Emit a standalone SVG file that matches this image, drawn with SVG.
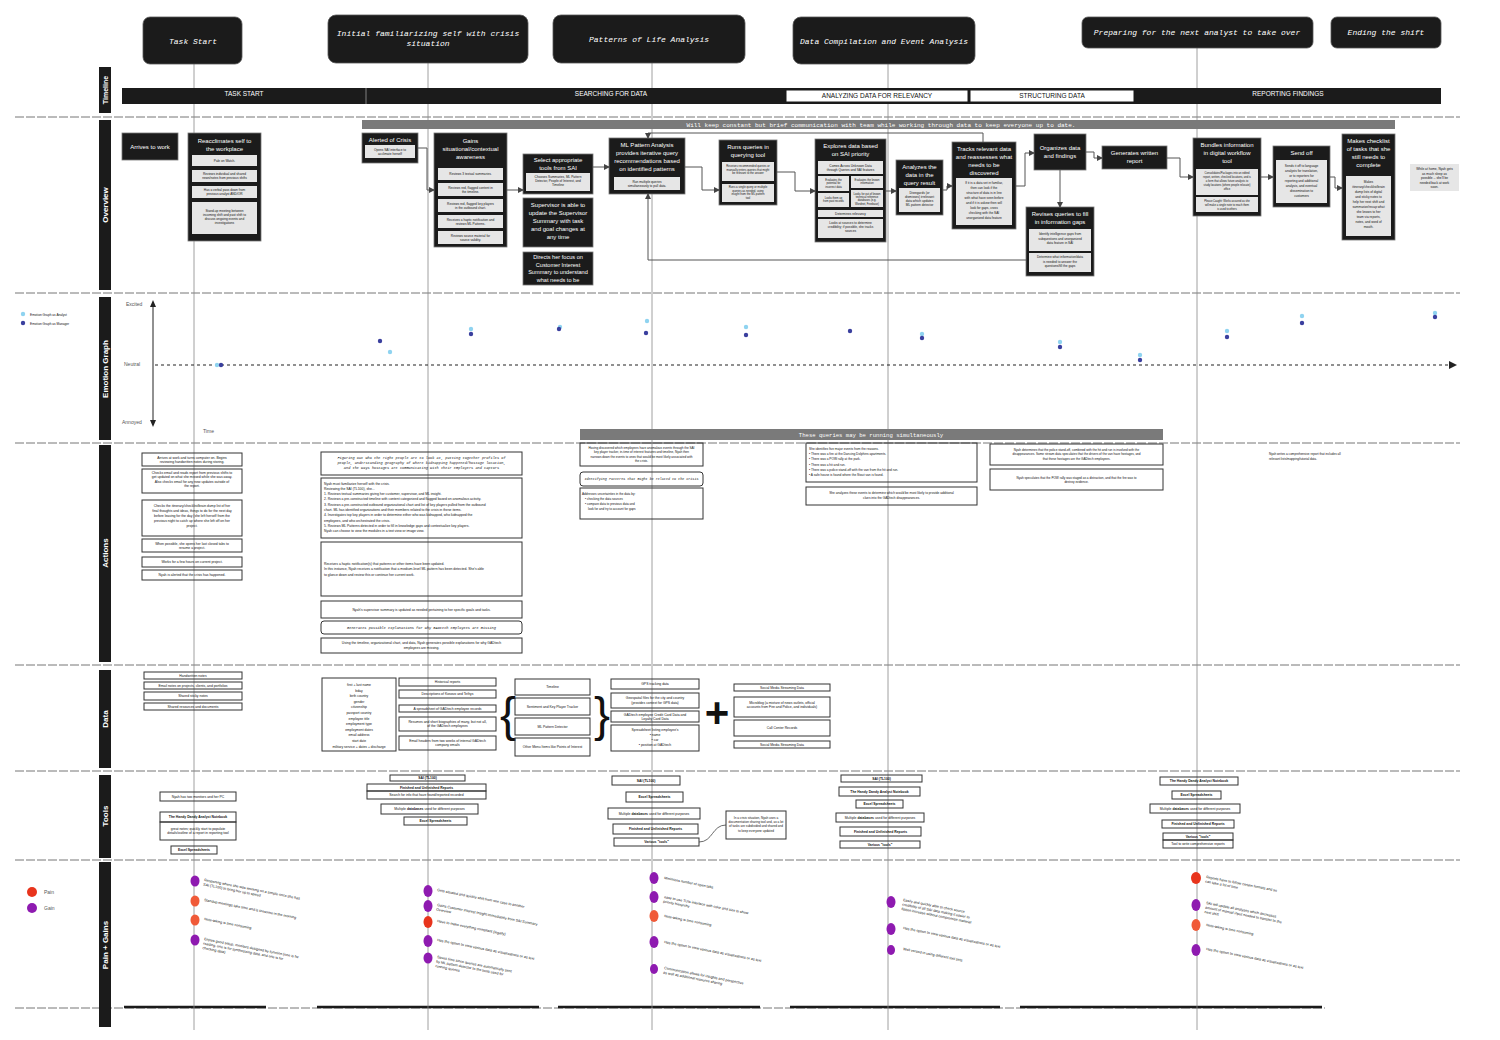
<svg xmlns="http://www.w3.org/2000/svg" width="1500" height="1040" viewBox="0 0 1500 1040">
<style>
.hdr{fill:#1b1b1b;stroke:#555;stroke-width:0.8}
.ht{fill:#fff;font-family:"Liberation Mono",monospace;font-style:italic;font-size:8px;text-anchor:middle}
.lane{fill:#1b1b1b}
.lt{fill:#fff;font-family:"Liberation Sans",Arial,sans-serif;font-weight:bold;font-size:8px;text-anchor:middle}
.tlt{font-family:"Liberation Sans",Arial,sans-serif;font-size:6.5px;text-anchor:middle}
.ob{fill:#1b1b1b;stroke:#777;stroke-width:0.8}
.ot{fill:#fff;font-family:"Liberation Sans",Arial,sans-serif;font-size:6px;text-anchor:middle}
.ib{fill:#e6e6e6}
.it{fill:#111;font-family:"Liberation Sans",Arial,sans-serif;font-size:3.2px;text-anchor:middle}
.ab{fill:none;stroke:#333;stroke-width:1}
.at{fill:#111;font-family:"Liberation Sans",Arial,sans-serif;font-size:3.4px;text-anchor:middle}
.al{text-anchor:start}
.b{font-weight:bold}
.mi{font-family:"Liberation Mono",monospace;font-style:italic}
.sep{stroke:#777;stroke-width:1;stroke-dasharray:9 2}
.vl{stroke:#888;stroke-width:0.8}
.cn{fill:none;stroke:#555;stroke-width:1;marker-end:url(#ar)}
.pg{font-family:"Liberation Sans",Arial,sans-serif;font-size:3.6px;fill:#111}
.ax{font-family:"Liberation Sans",Arial,sans-serif;font-size:5px;fill:#555}
.pu{fill:#8e1ab0}.rd{fill:#e8341c}.or{fill:#f05a38}
.dk{fill:#3a3f9e}.lb{fill:#8fd3f0}
</style>
<defs>
<marker id="ar" markerWidth="6" markerHeight="6" refX="5" refY="3" orient="auto" markerUnits="userSpaceOnUse"><path d="M0,0 L6,3 L0,6 z" fill="#444"/></marker>
<marker id="ar2" markerWidth="8" markerHeight="8" refX="7" refY="4" orient="auto" markerUnits="userSpaceOnUse"><path d="M0,0 L8,4 L0,8 z" fill="#222"/></marker>
</defs>
<rect width="1500" height="1040" fill="#fff"/>

<g id="separators">
<line class="sep" x1="15" y1="117" x2="1460" y2="117"/>
<line class="sep" x1="15" y1="293" x2="1460" y2="293"/>
<line class="sep" x1="15" y1="443" x2="1460" y2="443"/>
<line class="sep" x1="15" y1="665" x2="1460" y2="665"/>
<line class="sep" x1="15" y1="771" x2="1460" y2="771"/>
<line class="sep" x1="15" y1="860" x2="1460" y2="860"/>
<line class="sep" x1="15" y1="1008" x2="1325" y2="1008"/>
<g stroke="#1b1b1b" stroke-width="2.5">
<line x1="124" y1="1007" x2="266" y2="1007"/><line x1="317" y1="1007" x2="539" y2="1007"/><line x1="558" y1="1007" x2="760" y2="1007"/><line x1="790" y1="1007" x2="1000" y2="1007"/><line x1="1020" y1="1007" x2="1322" y2="1007"/>
</g>
</g>

<g id="verticals">
<line class="vl" x1="194" y1="64" x2="194" y2="1030"/>
<line class="vl" x1="428" y1="63" x2="428" y2="1030"/>
<line class="vl" x1="652" y1="63" x2="652" y2="1030"/>
<line class="vl" x1="888" y1="64" x2="888" y2="1030"/>
<line class="vl" x1="1197" y1="48" x2="1197" y2="1030"/>
</g>

<g id="lanes">
<rect class="lane" x="99" y="67" width="12" height="46"/><text class="lt" style="font-size:7px" transform="translate(108,90) rotate(-90)">Timeline</text>
<rect class="lane" x="99" y="120" width="12" height="170"/><text class="lt" transform="translate(108,205) rotate(-90)">Overview</text>
<rect class="lane" x="99" y="297" width="12" height="143"/><text class="lt" transform="translate(108,369) rotate(-90)">Emotion Graph</text>
<rect class="lane" x="99" y="445" width="12" height="217"/><text class="lt" transform="translate(108,553) rotate(-90)">Actions</text>
<rect class="lane" x="99" y="670" width="12" height="98"/><text class="lt" transform="translate(108,719) rotate(-90)">Data</text>
<rect class="lane" x="99" y="775" width="12" height="83"/><text class="lt" transform="translate(108,816) rotate(-90)">Tools</text>
<rect class="lane" x="99" y="862" width="12" height="165"/><text class="lt" transform="translate(108,945) rotate(-90)">Pain + Gains</text>
</g>

<g id="phases">
<g id="ph-task-start"><rect class="hdr" x="143" y="17" width="99" height="47" rx="7"/><text class="ht" x="193" y="44">Task Start</text></g>
<g id="ph-initial"><rect class="hdr" x="328" y="15" width="200" height="48" rx="8"/><text class="ht" x="428" y="36">Initial familiarizing self with crisis<tspan x="428" dy="10">situation</tspan></text></g>
<g id="ph-patterns"><rect class="hdr" x="553" y="15" width="192" height="48" rx="8"/><text class="ht" x="649" y="42">Patterns of Life Analysis</text></g>
<g id="ph-data"><rect class="hdr" x="793" y="17" width="182" height="47" rx="8"/><text class="ht" x="884" y="44">Data Compilation and Event Analysis</text></g>
<g id="ph-preparing"><rect class="hdr" x="1082" y="17" width="231" height="31" rx="6"/><text class="ht" x="1197" y="35">Preparing for the next analyst to take over</text></g>
<g id="ph-ending"><rect class="hdr" x="1331" y="17" width="110" height="31" rx="6"/><text class="ht" x="1386" y="35">Ending the shift</text></g>
</g>

<g id="timeline">
<rect x="122" y="88" width="1319" height="16" fill="#1b1b1b"/>
<line x1="366" y1="88" x2="366" y2="104" stroke="#999" stroke-width="0.8"/>
<rect x="786" y="90" width="182" height="12" fill="#fff" stroke="#1b1b1b"/>
<rect x="970" y="90" width="164" height="12" fill="#fff" stroke="#1b1b1b"/>
<text class="tlt" x="244" y="96" fill="#fff">TASK START</text>
<text class="tlt" x="611" y="96" fill="#fff">SEARCHING FOR DATA</text>
<text class="tlt" x="877" y="98" fill="#111">ANALYZING DATA FOR RELEVANCY</text>
<text class="tlt" x="1052" y="98" fill="#111">STRUCTURING DATA</text>
<text class="tlt" x="1288" y="96" fill="#fff">REPORTING FINDINGS</text>
</g>

<g id="overview">
<g id="comm-bar"><rect x="362" y="120" width="1033" height="9" fill="#7a7a7a"/><text x="881" y="127" fill="#fff" font-family="Liberation Mono, monospace" font-size="6" text-anchor="middle">Will keep constant but brief communication with team while working through data to keep everyone up to date.</text></g>

<g id="n-arrives"><rect class="ob" x="122" y="133" width="56" height="27"/><text class="ot" x="150" y="149">Arrives to work</text></g>

<g id="n-reacclimates"><rect class="ob" x="188" y="133" width="73" height="108"/>
<text class="ot" x="224.5" y="143">Reacclimates self to<tspan x="224.5" dy="7.5">the workplace</tspan></text>
<rect class="ib" x="192" y="155" width="65" height="11"/><text class="it" x="224.5" y="161.5">Pale on Watch.</text>
<rect class="ib" x="192" y="170" width="65" height="12"/><text class="it" x="224.5" y="175">Reviews individual and shared<tspan x="224.5" dy="4">news/notes from previous shifts</tspan></text>
<rect class="ib" x="192" y="186" width="65" height="12"/><text class="it" x="224.5" y="191">Has a verbal pass down from<tspan x="224.5" dy="4">previous analyst AND/OR</tspan></text>
<rect class="ib" x="192" y="202" width="65" height="32"/><text class="it" x="224.5" y="212">Stand-up meeting between<tspan x="224.5" dy="4">incoming shift and past shift to</tspan><tspan x="224.5" dy="4">discuss ongoing events and</tspan><tspan x="224.5" dy="4">investigations</tspan></text>
</g>

<g id="n-alerted"><rect class="ob" x="362" y="133" width="56" height="30"/>
<text class="ot" x="390" y="141.5">Alerted of Crisis</text>
<rect class="ib" x="365" y="145" width="50" height="13"/><text class="it" x="390" y="150.5">Opens SAI interface to<tspan x="390" dy="4">acclimate herself</tspan></text>
</g>

<g id="n-gains"><rect class="ob" x="434" y="133" width="73" height="114"/>
<text class="ot" x="470.5" y="143">Gains<tspan x="470.5" dy="8">situational/contextual</tspan><tspan x="470.5" dy="8">awareness</tspan></text>
<rect class="ib" x="438" y="168" width="65" height="12"/><text class="it" x="470.5" y="175">Reviews 3 textual summaries.</text>
<rect class="ib" x="438" y="183" width="65" height="13"/><text class="it" x="470.5" y="188.5">Reviews red, flagged content in<tspan x="470.5" dy="4">the timeline.</tspan></text>
<rect class="ib" x="438" y="199" width="65" height="13"/><text class="it" x="470.5" y="204.5">Reviews red, flagged key players<tspan x="470.5" dy="4">in the outbound chart.</tspan></text>
<rect class="ib" x="438" y="215" width="65" height="13"/><text class="it" x="470.5" y="220.5">Receives a haptic notification and<tspan x="470.5" dy="4">reviews ML Patterns.</tspan></text>
<rect class="ib" x="438" y="231" width="65" height="13"/><text class="it" x="470.5" y="236.5">Reviews source material for<tspan x="470.5" dy="4">source validity.</tspan></text>
</g>

<g id="n-select"><rect class="ob" x="523" y="154" width="70" height="40"/>
<text class="ot" x="558" y="162">Select appropriate<tspan x="558" dy="7.5">tools from SAI</tspan></text>
<rect class="ib" x="526" y="173" width="64" height="18"/><text class="it" x="558" y="178">Chooses Summaries, ML Pattern<tspan x="558" dy="4">Detector, People of Interest, and</tspan><tspan x="558" dy="4">Timeline</tspan></text>
</g>

<g id="n-supervisor"><rect class="ob" x="523" y="198" width="70" height="49"/>
<text class="ot" x="558" y="207">Supervisor is able to<tspan x="558" dy="8">update the Supervisor</tspan><tspan x="558" dy="8">Summary with task</tspan><tspan x="558" dy="8">and goal changes at</tspan><tspan x="558" dy="8">any time</tspan></text>
</g>

<g id="n-directs"><rect class="ob" x="523" y="252" width="70" height="33"/>
<text class="ot" style="font-size:5.6px" x="558" y="259">Directs her focus on<tspan x="558" dy="7.5">Customer Interest</tspan><tspan x="558" dy="7.5">Summary to understand</tspan><tspan x="558" dy="7.5">what needs to be</tspan></text>
</g>

<g id="n-ml"><rect class="ob" x="609" y="138" width="76" height="56"/>
<text class="ot" x="647" y="147">ML Pattern Analysis<tspan x="647" dy="8">provides iterative query</tspan><tspan x="647" dy="8">recommendations based</tspan><tspan x="647" dy="8">on identified patterns</tspan></text>
<rect class="ib" x="614" y="177" width="66" height="13"/><text class="it" x="647" y="182.5">Run multiple queries<tspan x="647" dy="4">simultaneously to pull data.</tspan></text>
</g>

<g id="n-runs"><rect class="ob" x="719" y="140" width="58" height="65"/>
<text class="ot" x="748" y="149">Runs queries in<tspan x="748" dy="8">querying tool</tspan></text>
<rect class="ib" x="722" y="162" width="52" height="19"/><text class="it" style="font-size:2.8px" x="748" y="167">Receives recommended queries or<tspan x="748" dy="3.6">manually enters queries that might</tspan><tspan x="748" dy="3.6">be relevant to the answer</tspan></text>
<rect class="ib" x="722" y="184" width="52" height="18"/><text class="it" style="font-size:2.8px" x="748" y="188">Runs a single query or multiple<tspan x="748" dy="3.6">queries as needed, using</tspan><tspan x="748" dy="3.6">insight from the ML pattern</tspan><tspan x="748" dy="3.6">tool</tspan></text>
</g>

<g id="n-explores"><rect class="ob" x="815" y="139" width="71" height="103"/>
<text class="ot" x="850.5" y="148">Explores data based<tspan x="850.5" dy="8">on SAI priority</tspan></text>
<rect class="ib" x="818" y="161" width="65" height="13"/><text class="it" x="850.5" y="166.5">Comes Across Unknown Data<tspan x="850.5" dy="4">through Queries and SAI features</tspan></text>
<rect class="ib" x="818" y="176" width="31" height="15"/><text class="it" style="font-size:2.7px" x="833.5" y="181">Evaluates the<tspan x="833.5" dy="3.4">potential for</tspan><tspan x="833.5" dy="3.4">incorrect data</tspan></text>
<rect class="ib" x="851" y="176" width="32" height="12"/><text class="it" style="font-size:2.7px" x="867" y="181">Evaluates the known<tspan x="867" dy="3.4">information</tspan></text>
<rect class="ib" x="818" y="193" width="31" height="14"/><text class="it" style="font-size:2.7px" x="833.5" y="199">Looks them up<tspan x="833.5" dy="3.4">from past records</tspan></text>
<rect class="ib" x="851" y="190" width="32" height="17"/><text class="it" style="font-size:2.7px" x="867" y="194.5">Looks for out of known<tspan x="867" dy="3.4">technical reference</tspan><tspan x="867" dy="3.4">databases (e.g.</tspan><tspan x="867" dy="3.4">Wordnet, Freebase)</tspan></text>
<rect class="ib" x="818" y="210" width="65" height="7"/><text class="it" x="850.5" y="214.8">Determines relevancy</text>
<rect class="ib" x="818" y="219" width="65" height="19"/><text class="it" x="850.5" y="224">Looks at sources to determine<tspan x="850.5" dy="4">credibility; if possible, she tracks</tspan><tspan x="850.5" dy="4">sources</tspan></text>
</g>

<g id="n-analyzes"><rect class="ob" x="896" y="160" width="47" height="55"/>
<text class="ot" x="919.5" y="169">Analyzes the<tspan x="919.5" dy="8">data in the</tspan><tspan x="919.5" dy="8">query result</tspan></text>
<rect class="ib" x="899" y="188" width="41" height="24"/><text class="it" x="919.5" y="194">Disregards (or<tspan x="919.5" dy="4">dismisses) irrelevant</tspan><tspan x="919.5" dy="4">data which updates</tspan><tspan x="919.5" dy="4">ML pattern detector</tspan></text>
</g>

<g id="n-tracks"><rect class="ob" x="952" y="142" width="64" height="87"/>
<text class="ot" x="984" y="151">Tracks relevant data<tspan x="984" dy="8">and reassesses what</tspan><tspan x="984" dy="8">needs to be</tspan><tspan x="984" dy="8">discovered</tspan></text>
<rect class="ib" x="956" y="178" width="56" height="47"/><text class="it" x="984" y="184">If it is a data set in familiar,<tspan x="984" dy="5">then can look if the</tspan><tspan x="984" dy="5">structure of data is in line</tspan><tspan x="984" dy="5">with what have seen before</tspan><tspan x="984" dy="5">and if it is askew then will</tspan><tspan x="984" dy="5">look for gaps, cross</tspan><tspan x="984" dy="5">checking with the SAI</tspan><tspan x="984" dy="5">unorganized data feature</tspan></text>
</g>

<g id="n-organizes"><rect class="ob" x="1034" y="134" width="52" height="36"/>
<text class="ot" x="1060" y="150">Organizes data<tspan x="1060" dy="8">and findings</tspan></text>
</g>

<g id="n-revises"><rect class="ob" x="1026" y="207" width="68" height="69"/>
<text class="ot" x="1060" y="216">Revises queries to fill<tspan x="1060" dy="8">in information gaps</tspan></text>
<rect class="ib" x="1029" y="229" width="62" height="22"/><text class="it" x="1060" y="235">Identify intelligence gaps from<tspan x="1060" dy="4.5">subquestions and unorganized</tspan><tspan x="1060" dy="4.5">data feature in SAI</tspan></text>
<rect class="ib" x="1029" y="253" width="62" height="19"/><text class="it" x="1060" y="258">Determine what information/data<tspan x="1060" dy="4.5">is needed to answer the</tspan><tspan x="1060" dy="4.5">questions/fill the gaps</tspan></text>
</g>

<g id="n-generates"><rect class="ob" x="1102" y="146" width="65" height="23"/>
<text class="ot" x="1134.5" y="155">Generates written<tspan x="1134.5" dy="8">report</tspan></text>
</g>

<g id="n-bundles"><rect class="ob" x="1193" y="138" width="68" height="78"/>
<text class="ot" x="1227" y="147">Bundles information<tspan x="1227" dy="8">in digital workflow</tspan><tspan x="1227" dy="8">tool</tspan></text>
<rect class="ib" x="1196" y="169" width="62" height="26"/><text class="it" style="font-size:2.7px" x="1227" y="174">Consolidates/Packages into an edited<tspan x="1227" dy="4">report, written, checked locations, and is</tspan><tspan x="1227" dy="4">a form that allows future analysts to</tspan><tspan x="1227" dy="4">study locations (where people relocate)</tspan><tspan x="1227" dy="4">office</tspan></text>
<rect class="ib" x="1196" y="197" width="62" height="15"/><text class="it" style="font-size:2.7px" x="1227" y="202">Please Caught: Works assured as she<tspan x="1227" dy="4">will make a single note to reach them</tspan><tspan x="1227" dy="4">is used to others</tspan></text>
</g>

<g id="n-sendoff"><rect class="ob" x="1273" y="146" width="57" height="61"/>
<text class="ot" x="1301.5" y="155">Send off</text>
<rect class="ib" x="1276" y="160" width="51" height="43"/><text class="it" x="1301.5" y="167">Sends it off to language<tspan x="1301.5" dy="5">analysts for translation,</tspan><tspan x="1301.5" dy="5">or to reporters for</tspan><tspan x="1301.5" dy="5">reporting and additional</tspan><tspan x="1301.5" dy="5">analysis, and eventual</tspan><tspan x="1301.5" dy="5">dissemination to</tspan><tspan x="1301.5" dy="5">customers</tspan></text>
</g>

<g id="n-checklist"><rect class="ob" x="1342" y="134" width="53" height="106"/>
<text class="ot" x="1368.5" y="143">Makes checklist<tspan x="1368.5" dy="8">of tasks that she</tspan><tspan x="1368.5" dy="8">still needs to</tspan><tspan x="1368.5" dy="8">complete</tspan></text>
<rect class="ib" x="1346" y="176" width="45" height="60"/><text class="it" x="1368.5" y="183">Makes<tspan x="1368.5" dy="5">itinerary/checklist/brain</tspan><tspan x="1368.5" dy="5">dump lists of digital</tspan><tspan x="1368.5" dy="5">and sticky notes to</tspan><tspan x="1368.5" dy="5">help her next shift and</tspan><tspan x="1368.5" dy="5">summarize/recap what</tspan><tspan x="1368.5" dy="5">she knows to her</tspan><tspan x="1368.5" dy="5">team via reports,</tspan><tspan x="1368.5" dy="5">notes, and word of</tspan><tspan x="1368.5" dy="5">mouth.</tspan></text>
</g>

<g id="n-home"><rect class="ib" x="1410" y="164" width="49" height="27"/>
<text class="it" x="1434.5" y="170">While at home, Nyah gets<tspan x="1434.5" dy="4.5">as much sleep as</tspan><tspan x="1434.5" dy="4.5">possible -- she'll be</tspan><tspan x="1434.5" dy="4.5">needed back at work</tspan><tspan x="1434.5" dy="4.5">soon.</tspan></text>
</g>
</g>

<g id="connectors">
<path class="cn" d="M418,148 H427 V190 H434"/>
<path class="cn" d="M507,190 H523"/>
<path class="cn" d="M593,167 H609"/>
<path class="cn" d="M685,167 H702 V190 H719"/>
<path class="cn" d="M777,172 H795 V191 H815"/>
<path class="cn" d="M886,191 H896"/>
<path class="cn" d="M943,190 H947 V186 H952"/>
<path class="cn" d="M1016,186 H1025 V153 H1034"/>
<path class="cn" d="M1060,170 V207"/>
<path class="cn" d="M1026,260 H648 V194"/>
<path class="cn" d="M983,142 V133 H648 V138"/>
<path class="cn" d="M1086,152 H1094 V158 H1102"/>
<path class="cn" d="M1167,158 H1180 V177 H1193"/>
<path class="cn" d="M1261,177 H1273"/>
<path class="cn" d="M1330,177 H1335 V188 H1342"/>
<path d="M699,842 C713,842 712,825 726,825" fill="none" stroke="#444" stroke-width="0.8"/>
</g>

<g id="emotion">
<circle class="lb" cx="23" cy="314" r="2.2"/><text class="it al" x="30" y="315.5">Emotion Graph as Analyst</text>
<circle class="dk" cx="23" cy="323" r="2.2"/><text class="it al" x="30" y="324.5">Emotion Graph as Manager</text>
<line x1="153" y1="306" x2="153" y2="421" stroke="#222" stroke-width="1"/>
<path d="M150,307 L153,300 L156,307 z M150,420 L153,427 L156,420 z" fill="#222"/>
<text class="ax" x="126" y="306">Excited</text>
<text class="ax" x="124" y="366">Neutral</text>
<text class="ax" x="122" y="424">Annoyed</text>
<text class="ax" x="203" y="433">Time</text>
<line x1="155" y1="365" x2="1456" y2="365" stroke="#222" stroke-width="1.2" stroke-dasharray="3 3" marker-end="url(#ar2)"/>
<g>
<circle class="lb" cx="217" cy="365" r="2.2"/><circle class="dk" cx="221" cy="365" r="2.2"/>
<circle class="dk" cx="380" cy="341" r="2.2"/><circle class="lb" cx="390" cy="352" r="2.2"/>
<circle class="lb" cx="471" cy="329" r="2.2"/><circle class="dk" cx="471" cy="334" r="2.2"/>
<circle class="lb" cx="560" cy="327" r="2.2"/><circle class="dk" cx="559" cy="329" r="2.2"/>
<circle class="lb" cx="647" cy="321" r="2.2"/><circle class="dk" cx="646" cy="333" r="2.2"/>
<circle class="lb" cx="746" cy="327" r="2.2"/><circle class="dk" cx="746" cy="335" r="2.2"/>
<circle class="dk" cx="850" cy="331" r="2.2"/>
<circle class="lb" cx="922" cy="334" r="2.2"/><circle class="dk" cx="922" cy="338" r="2.2"/>
<circle class="lb" cx="1060" cy="342" r="2.2"/><circle class="dk" cx="1060" cy="347" r="2.2"/>
<circle class="lb" cx="1140" cy="355" r="2.2"/><circle class="dk" cx="1140" cy="360" r="2.2"/>
<circle class="lb" cx="1227" cy="331" r="2.2"/><circle class="dk" cx="1227" cy="337" r="2.2"/>
<circle class="lb" cx="1302" cy="316" r="2.2"/><circle class="dk" cx="1302" cy="323" r="2.2"/>
<circle class="lb" cx="1435" cy="313" r="2.2"/><circle class="dk" cx="1435" cy="317" r="2.2"/>
</g>
</g>

<g id="actions">
<g id="a-col1">
<rect class="ab" x="142" y="453" width="100" height="13"/><text class="at" x="192" y="458.5">Arrives at work and turns computer on. Begins<tspan x="192" dy="4.2">reviewing handwritten notes during storing.</tspan></text>
<rect class="ab" x="142" y="469" width="100" height="24"/><text class="at" x="192" y="474">Checks email and reads report from previous shifts to<tspan x="192" dy="4.4">get updated on what she missed while she was away.</tspan><tspan x="192" dy="4.4">Also checks email for any new updates outside of</tspan><tspan x="192" dy="4.4">the report.</tspan></text>
<rect class="ab" x="142" y="500" width="100" height="36"/><text class="at" x="192" y="507">Checks the itinerary/checklist/brain dump list of her<tspan x="192" dy="5">final thoughts and ideas, things to do for the next day</tspan><tspan x="192" dy="5">before leaving for the day (she left herself from the</tspan><tspan x="192" dy="5">previous night to catch up where she left off on her</tspan><tspan x="192" dy="5">project.</tspan></text>
<rect class="ab" x="142" y="539" width="100" height="13"/><text class="at" x="192" y="544.5">When possible, she opens her last closed tabs to<tspan x="192" dy="4.2">resume a project.</tspan></text>
<rect class="ab" x="142" y="557" width="100" height="10"/><text class="at" x="192" y="563.2">Works for a few hours on current project.</text>
<rect class="ab" x="142" y="570" width="100" height="10"/><text class="at" x="192" y="576.2">Nyah is alerted that the crisis has happened.</text>
</g>
<g id="a-col2">
<rect class="ab" x="321" y="452" width="201" height="23"/><text class="at mi" style="font-size:3.6px" x="421.5" y="459">Figuring out who the right people are to look at, putting together profiles of<tspan x="421.5" dy="5">people, understanding geography of where kidnapping happened/hostage location,</tspan><tspan x="421.5" dy="5">and the ways hostages are communicating with their employers and captors</tspan></text>
<rect class="ab" x="321" y="478" width="201" height="60"/><text class="at al" x="324" y="484.5">Nyah must familiarize herself with the crisis.<tspan x="324" dy="5.3">Reviewing the SAI (TL100), she...</tspan><tspan x="324" dy="5.3">1. Reviews textual summaries giving her customer, supervisor, and ML insight.</tspan><tspan x="324" dy="5.3">2. Reviews a pre-constructed timeline with content categorized and flagged based on anomalous activity.</tspan><tspan x="324" dy="5.3">3. Reviews a pre-constructed outbound organizational chart and list of key players pulled from the outbound</tspan><tspan x="324" dy="5.3">chart. ML has identified organizations and their members related to the crisis in these items.</tspan><tspan x="324" dy="5.3">4. Investigates top key players in order to determine either who was kidnapped, who kidnapped the</tspan><tspan x="324" dy="5.3">employees, and who orchestrated the crisis.</tspan><tspan x="324" dy="5.3">5. Reviews ML Patterns detected in order to fill in knowledge gaps and contextualize key players.</tspan><tspan x="324" dy="5.3">Nyah can choose to view the modules in a text view or image view.</tspan></text>
<rect class="ab" x="321" y="542" width="201" height="54"/><text class="at al" x="324" y="565">Receives a haptic notification(s) that patterns or other items have been updated.<tspan x="324" dy="5.3">In this instance, Nyah receives a notification that a medium-level ML pattern has been detected. She's able</tspan><tspan x="324" dy="5.3">to glance down and review this or continue her current work.</tspan></text>
<rect class="ab" x="321" y="601" width="201" height="17"/><text class="at" x="421.5" y="610.5">Nyah's supervisor summary is updated as needed pertaining to her specific goals and tasks.</text>
<rect class="ab" x="321" y="621" width="201" height="13" rx="3"/><text class="at mi" style="font-size:3.6px" x="421.5" y="628.8">Generates possible explanations for why GADtech employees are missing</text>
<rect class="ab" x="321" y="638" width="201" height="15"/><text class="at" x="421.5" y="644">Using the timeline, organizational chart, and data, Nyah generates possible explanations for why GADtech<tspan x="421.5" dy="5">employees are missing.</tspan></text>
</g>
<g id="a-simul"><rect x="580" y="429" width="583" height="11" fill="#7a7a7a"/><text x="871" y="437" fill="#fff" font-family="Liberation Mono, monospace" font-size="5.6" text-anchor="middle">These queries may be running simultaneously</text></g>
<g id="a-col3">
<rect class="ab" x="580" y="443" width="123" height="23"/><text class="at" style="font-size:3.1px" x="641.5" y="448.5">Having discovered which employees have anomalous events through the SAI<tspan x="641.5" dy="4.6">key player tracker, in-time of interest features and timeline, Nyah then</tspan><tspan x="641.5" dy="4.6">narrows down the events to ones that would be most likely associated with</tspan><tspan x="641.5" dy="4.6">the crisis.</tspan></text>
<rect class="ab" x="580" y="472" width="123" height="14" rx="3"/><text class="at mi" style="font-size:3.4px" x="641.5" y="480.3">Identifying Patterns that might be related to the Crisis</text>
<rect class="ab" x="580" y="488" width="123" height="31"/><text class="at al" style="font-size:3.1px" x="582" y="495">Addresses uncertainties in the data by:<tspan x="585" dy="5">• checking the data sources</tspan><tspan x="585" dy="5">• compare data to previous data and</tspan><tspan x="588" dy="5">look for and try to account for gaps</tspan></text>
</g>
<g id="a-col4">
<rect class="ab" x="806" y="443" width="171" height="39"/><text class="at al" style="font-size:3.2px" x="809" y="450">She identifies five major events from the reasons.<tspan x="809" dy="5.2">• There was a fire at the Dancing Dolphins apartments.</tspan><tspan x="809" dy="5.2">• There was a POW rally at the park.</tspan><tspan x="809" dy="5.2">• There was a hit and run.</tspan><tspan x="809" dy="5.2">• There was a police stand-off with the van from the hit and run.</tspan><tspan x="809" dy="5.2">• A safe house is found where the Stout van is found.</tspan></text>
<rect class="ab" x="806" y="487" width="171" height="18"/><text class="at" style="font-size:3.2px" x="891.5" y="494">She analyzes these events to determine which would be most likely to provide additional<tspan x="891.5" dy="4.8">clues into the GADtech disappearances.</tspan></text>
</g>
<g id="a-col5">
<rect class="ab" x="990" y="444" width="173" height="21"/><text class="at" style="font-size:3.1px" x="1076.5" y="450.5">Nyah determines that the police stand-off, combined with the hit and run is involved with the<tspan x="1076.5" dy="4.6">disappearances. Some stream data speculates that the drivers of the van have hostages, and</tspan><tspan x="1076.5" dy="4.6">that these hostages are the GADtech employees.</tspan></text>
<rect class="ab" x="990" y="469" width="173" height="21"/><text class="at" style="font-size:3.1px" x="1076.5" y="478.5">Nyah speculates that the POW rally was staged as a distraction, and that the fire was to<tspan x="1076.5" dy="4.6">destroy evidence.</tspan></text>
</g>
<g id="a-col6"><text class="at al" style="font-size:3.1px" x="1269" y="455">Nyah writes a comprehensive report that includes all<tspan x="1269" dy="4.5">relevant lists/mapping/tutorial data.</tspan></text></g>
</g>

<g id="data">
<g id="d-col1">
<rect class="ab" x="144" y="672" width="98" height="7"/><text class="at" x="193" y="676.8">Handwritten notes</text>
<rect class="ab" x="144" y="682" width="98" height="7"/><text class="at" x="193" y="686.8">Email notes on projects, clients, and portfolios</text>
<rect class="ab" x="144" y="692" width="98" height="8"/><text class="at" x="193" y="697.3">Shared sticky notes</text>
<rect class="ab" x="144" y="703" width="98" height="7"/><text class="at" x="193" y="707.8">Shared resources and documents</text>
</g>
<g id="d-col2">
<rect class="ab" x="322" y="678" width="74" height="73"/><text class="at" x="359" y="686">first + last name<tspan x="359" dy="5.6">bday</tspan><tspan x="359" dy="5.6">birth country</tspan><tspan x="359" dy="5.6">gender</tspan><tspan x="359" dy="5.6">citizenship</tspan><tspan x="359" dy="5.6">passport country</tspan><tspan x="359" dy="5.6">employee title</tspan><tspan x="359" dy="5.6">employment type</tspan><tspan x="359" dy="5.6">employment dates</tspan><tspan x="359" dy="5.6">email address</tspan><tspan x="359" dy="5.6">start date</tspan><tspan x="359" dy="5.6">military service + dates + discharge</tspan></text>
<rect class="ab" x="399" y="678" width="97" height="8"/><text class="at" x="447.5" y="683.3">Historical reports</text>
<rect class="ab" x="399" y="690" width="97" height="8"/><text class="at" x="447.5" y="695.3">Descriptions of Kosovo and Tethys</text>
<rect class="ab" x="399" y="705" width="97" height="7"/><text class="at" x="447.5" y="709.8">A spreadsheet of GADtech employee records</text>
<rect class="ab" x="399" y="717" width="97" height="14"/><text class="at" x="447.5" y="723">Resumes and short biographies of many, but not all,<tspan x="447.5" dy="4.4">of the GADtech employees</tspan></text>
<rect class="ab" x="399" y="736" width="97" height="14"/><text class="at" x="447.5" y="742">Email headers from two weeks of internal GADtech<tspan x="447.5" dy="4.4">company emails</tspan></text>
</g>
<text x="508" y="731" font-family="Liberation Sans, Arial, sans-serif" font-size="48" text-anchor="middle" fill="#111">{</text>
<g id="d-col3">
<rect class="ab" x="515" y="679" width="75" height="16"/><text class="at" x="552.5" y="688.2">Timeline</text>
<rect class="ab" x="515" y="698" width="75" height="17"/><text class="at" x="552.5" y="707.7">Sentiment and Key Player Tracker</text>
<rect class="ab" x="515" y="718" width="75" height="17"/><text class="at" x="552.5" y="727.7">ML Pattern Detector</text>
<rect class="ab" x="515" y="738" width="75" height="18"/><text class="at" x="552.5" y="748.2">Other Menu Items like Points of Interest</text>
</g>
<text x="602" y="731" font-family="Liberation Sans, Arial, sans-serif" font-size="48" text-anchor="middle" fill="#111">}</text>
<g id="d-col4">
<rect class="ab" x="611" y="679" width="88" height="10"/><text class="at" x="655" y="685.2">GPS tracking data</text>
<rect class="ab" x="611" y="693" width="88" height="15"/><text class="at" x="655" y="699.3">Geospatial files for the city and country<tspan x="655" dy="4.4">(provides context for GPS data)</tspan></text>
<rect class="ab" x="611" y="711" width="88" height="11"/><text class="at" x="655" y="715.5">GADtech employee Credit Card Data and<tspan x="655" dy="4.2">Loyalty Card Data</tspan></text>
<rect class="ab" x="611" y="725" width="88" height="26"/><text class="at" x="655" y="731">Spreadsheet listing employee's<tspan x="655" dy="5">• name</tspan><tspan x="655" dy="5">• car</tspan><tspan x="655" dy="5">• position at GADtech</tspan></text>
</g>
<text x="717" y="727" font-family="Liberation Sans, Arial, sans-serif" font-size="42" font-weight="bold" text-anchor="middle" fill="#111">+</text>
<g id="d-col5">
<rect class="ab" x="734" y="684" width="96" height="7"/><text class="at" x="782" y="688.8">Social Media Streaming Data</text>
<rect class="ab" x="734" y="697" width="96" height="20"/><text class="at" x="782" y="704">Microblog (a mixture of news outlets, official<tspan x="782" dy="4.4">accounts from Fire and Police, and individuals)</tspan></text>
<rect class="ab" x="734" y="720" width="96" height="16"/><text class="at" x="782" y="729.2">Call Center Records</text>
<rect class="ab" x="734" y="741" width="96" height="7"/><text class="at" x="782" y="745.8">Social Media Streaming Data</text>
</g>
</g>

<g id="tools">
<g id="t-col1">
<rect class="ab" x="160" y="792" width="76" height="9"/><text class="at" x="198" y="797.8">Nyah has two monitors and her PC</text>
<rect class="ab" x="160" y="812" width="76" height="10"/><text class="at b" x="198" y="818.2">The Handy Dandy Analyst Notebook</text>
<rect class="ab" x="160" y="822" width="76" height="18"/><text class="at" x="198" y="829.5">great notes; quickly start to populate<tspan x="198" dy="4.4">details/outline of a report in reporting tool</tspan></text>
<rect class="ab" x="171" y="846" width="46" height="8"/><text class="at b" x="194" y="851.3">Excel Spreadsheets</text>
</g>
<g id="t-col2">
<rect class="ab" x="390" y="775" width="75" height="6"/><text class="at b" x="427.5" y="779.2">SAI (TL100)</text>
<rect class="ab" x="367" y="784" width="119" height="7"/><text class="at b" x="426.5" y="788.8">Finished and Unfinished Reports</text>
<rect class="ab" x="367" y="791" width="119" height="8"/><text class="at" x="426.5" y="796.3">Search for info that have found/reported recorded</text>
<rect class="ab" x="381" y="804" width="97" height="10"/><text class="at" x="429.5" y="810.2">Multiple <tspan class="b">databases</tspan> used for different purposes</text>
<rect class="ab" x="404" y="817" width="63" height="8"/><text class="at b" x="435.5" y="822.3">Excel Spreadsheets</text>
</g>
<g id="t-col3">
<rect class="ab" x="612" y="776" width="68" height="9"/><text class="at b" x="646" y="781.8">SAI (TL100)</text>
<rect class="ab" x="626" y="792" width="57" height="10"/><text class="at b" x="654.5" y="798.2">Excel Spreadsheets</text>
<rect class="ab" x="608" y="808" width="92" height="11"/><text class="at" x="654" y="814.7">Multiple <tspan class="b">databases</tspan> used for different purposes</text>
<rect class="ab" x="613" y="824" width="85" height="10"/><text class="at b" x="655.5" y="830.2">Finished and Unfinished Reports</text>
<rect class="ab" x="614" y="838" width="85" height="8"/><text class="at b" x="656.5" y="843.3">Various "tools"</text>
<rect class="ab" x="726" y="811" width="60" height="28"/><text class="at" style="font-size:3.1px" x="756" y="818.5">In a crisis situation, Nyah uses a<tspan x="756" dy="4.4">documentation sharing tool and, as a lot</tspan><tspan x="756" dy="4.4">of tasks are subdivided and shared and</tspan><tspan x="756" dy="4.4">to keep everyone updated</tspan></text>
</g>
<g id="t-col4">
<rect class="ab" x="841" y="775" width="81" height="7"/><text class="at b" x="881.5" y="779.8">SAI (TL100)</text>
<rect class="ab" x="839" y="787" width="81" height="9"/><text class="at b" x="879.5" y="792.8">The Handy Dandy Analyst Notebook</text>
<rect class="ab" x="856" y="800" width="47" height="8"/><text class="at b" x="879.5" y="805.3">Excel Spreadsheets</text>
<rect class="ab" x="836" y="813" width="88" height="9"/><text class="at" x="880" y="818.8">Multiple <tspan class="b">databases</tspan> used for different purposes</text>
<rect class="ab" x="840" y="827" width="81" height="9"/><text class="at b" x="880.5" y="832.8">Finished and Unfinished Reports</text>
<rect class="ab" x="840" y="841" width="80" height="7"/><text class="at b" x="880" y="845.8">Various "tools"</text>
</g>
<g id="t-col5">
<rect class="ab" x="1160" y="777" width="78" height="8"/><text class="at b" x="1199" y="782.3">The Handy Dandy Analyst Notebook</text>
<rect class="ab" x="1172" y="791" width="49" height="8"/><text class="at b" x="1196.5" y="796.3">Excel Spreadsheets</text>
<rect class="ab" x="1150" y="804" width="90" height="9"/><text class="at" x="1195" y="809.8">Multiple <tspan class="b">databases</tspan> used for different purposes</text>
<rect class="ab" x="1162" y="820" width="72" height="8"/><text class="at b" x="1198" y="825.3">Finished and Unfinished Reports</text>
<rect class="ab" x="1163" y="833" width="70" height="7"/><text class="at b" x="1198" y="837.8">Various "tools"</text>
<rect class="ab" x="1163" y="840" width="70" height="8"/><text class="at" x="1198" y="845.3">Tool to write comprehensive reports</text>
</g>
</g>

<g id="pain-gains">
<g id="pg-legend">
<circle class="rd" cx="32" cy="892" r="5"/><text class="ax" x="44" y="894">Pain</text>
<circle class="pu" cx="32" cy="908" r="5"/><text class="ax" x="44" y="910">Gain</text>
</g>
<g id="pg-col1">
<ellipse class="pu" cx="195" cy="881" rx="4.5" ry="5.5"/><text class="pg" transform="translate(204,881) rotate(11)">Reopening where she was working on a simple once she has<tspan x="0" dy="4.6">SAI (TL100) to bring her up to speed</tspan></text>
<ellipse class="or" cx="195" cy="901" rx="4.5" ry="5.5"/><text class="pg" transform="translate(204,901) rotate(11)">Standup meetings take time and is tiresome in the morning</text>
<ellipse class="or" cx="195" cy="920" rx="4.5" ry="5.5"/><text class="pg" transform="translate(204,920) rotate(11)">Note-taking is time consuming</text>
<ellipse class="pu" cx="195" cy="940" rx="4.5" ry="5.5"/><text class="pg" transform="translate(204,940) rotate(11)">Enjoys good setup, monitors designed by function (one is for<tspan x="0" dy="4.6">reading, one is for synthesizing data, and one is for</tspan><tspan x="0" dy="4.6">checking data)</tspan></text>
</g>
<g id="pg-col2">
<ellipse class="pu" cx="428" cy="891" rx="4.5" ry="6"/><text class="pg" transform="translate(437,891) rotate(11)">Gets situated and quickly shift from one case to another</text>
<ellipse class="pu" cx="428" cy="906" rx="4.5" ry="6"/><text class="pg" transform="translate(437,906) rotate(11)">Gains Customer Interest Insight immediately from SAI Summary<tspan x="0" dy="4.6">Overview</tspan></text>
<ellipse class="rd" cx="428" cy="922" rx="4.5" ry="6"/><text class="pg" transform="translate(437,922) rotate(11)">Have to make everything compliant (legally)</text>
<ellipse class="pu" cx="428" cy="941" rx="4.5" ry="6"/><text class="pg" transform="translate(437,941) rotate(11)">Has the option to view various data as visualizations or as text</text>
<ellipse class="pu" cx="428" cy="958" rx="4.5" ry="5.5"/><text class="pg" transform="translate(437,958) rotate(11)">Saves time since queries are automatically sent<tspan x="0" dy="4.6">by ML pattern detector to the tools used for</tspan><tspan x="0" dy="4.6">running queries</tspan></text>
</g>
<g id="pg-col3">
<ellipse class="pu" cx="654" cy="878" rx="4.5" ry="6"/><text class="pg" transform="translate(664,879) rotate(11)">Minimizes number of open tabs</text>
<ellipse class="pu" cx="654" cy="897" rx="4.5" ry="6"/><text class="pg" transform="translate(664,898) rotate(11)">easy to use TUIs interface with color and size to show<tspan x="0" dy="4.6">priority hierarchy</tspan></text>
<ellipse class="or" cx="654" cy="916" rx="4.5" ry="6"/><text class="pg" transform="translate(664,917) rotate(11)">Note-taking is time consuming</text>
<ellipse class="pu" cx="654" cy="942" rx="4.5" ry="6"/><text class="pg" transform="translate(664,943) rotate(11)">Has the option to view various data as visualizations or as text</text>
<ellipse class="pu" cx="654" cy="969" rx="4" ry="5"/><text class="pg" transform="translate(664,969) rotate(11)">Communication allows for insights and perspective<tspan x="0" dy="4.6">as well as additional resource sharing</tspan></text>
</g>
<g id="pg-col4">
<ellipse class="pu" cx="891" cy="902" rx="4.5" ry="6"/><text class="pg" transform="translate(903,901) rotate(11)">Easily and quickly able to check source<tspan x="0" dy="4.6">credibility of all SAI data making it easier to</tspan><tspan x="0" dy="4.6">flatten increase without compromise material</tspan></text>
<ellipse class="pu" cx="891" cy="929" rx="4.5" ry="6"/><text class="pg" transform="translate(903,929) rotate(11)">Has the option to view various data as visualizations or as text</text>
<ellipse class="pu" cx="891" cy="950" rx="4" ry="5"/><text class="pg" transform="translate(903,950) rotate(11)">Well versed in using different tool sets</text>
</g>
<g id="pg-col5">
<ellipse class="rd" cx="1196" cy="878" rx="5" ry="6"/><text class="pg" transform="translate(1206,878) rotate(11)">Reports have to follow certain formats and so<tspan x="0" dy="4.6">can take a lot of time</tspan></text>
<ellipse class="pu" cx="1196" cy="905" rx="4.5" ry="6"/><text class="pg" transform="translate(1206,904) rotate(11)">SAI will update all analyses which decreases<tspan x="0" dy="4.6">amount of manual input needed to transfer to the</tspan><tspan x="0" dy="4.6">next shift</tspan></text>
<ellipse class="or" cx="1196" cy="925" rx="4.5" ry="6"/><text class="pg" transform="translate(1206,926) rotate(11)">Note-taking is time consuming</text>
<ellipse class="pu" cx="1196" cy="950" rx="4.5" ry="6"/><text class="pg" transform="translate(1206,950) rotate(11)">Has the option to view various data as visualizations or as text</text>
</g>
</g>
</svg>
